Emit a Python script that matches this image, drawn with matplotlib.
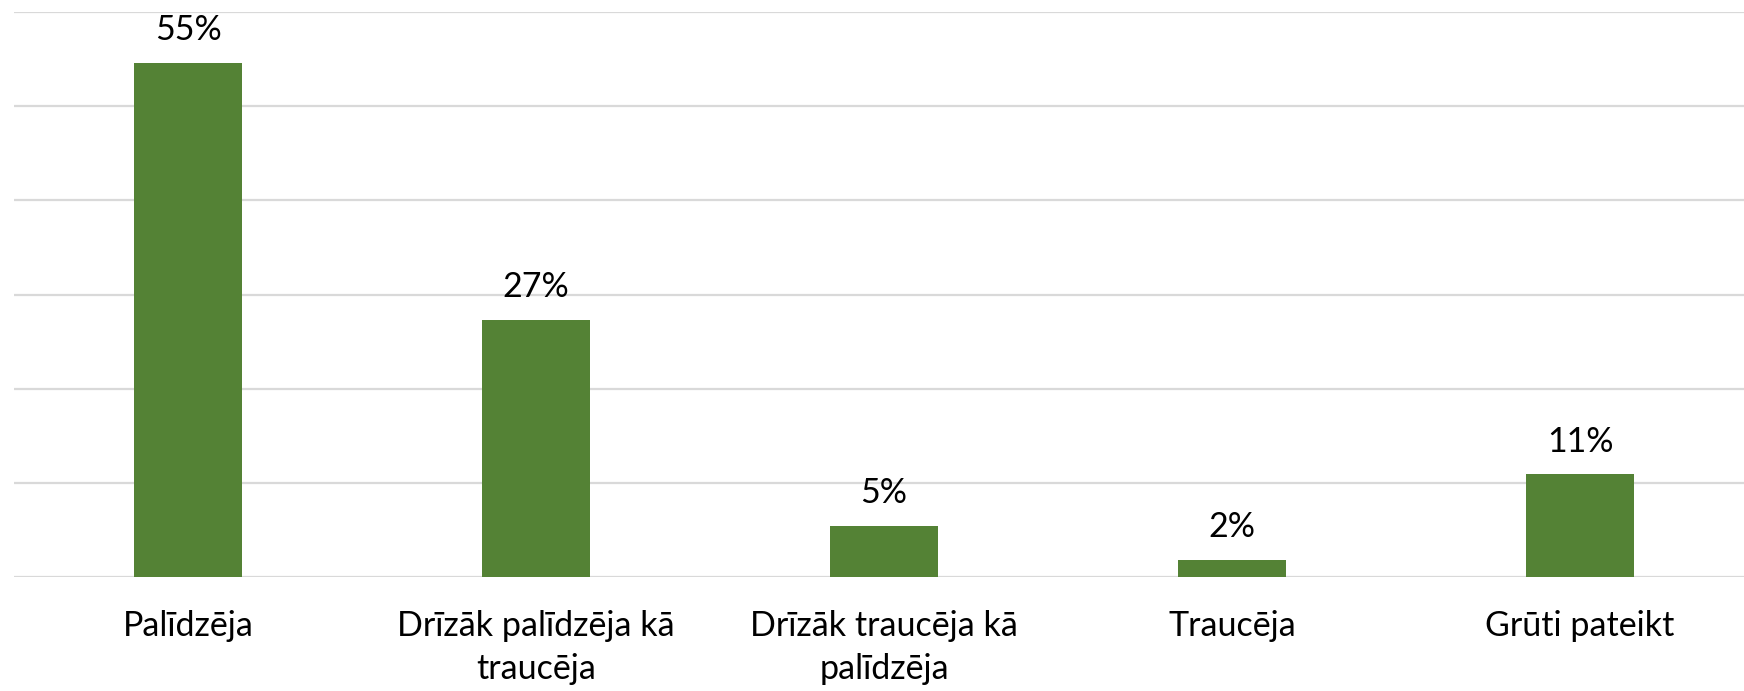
import numpy as np
import matplotlib
matplotlib.use("Agg")
import matplotlib.pyplot as plt

plt.rcParams['font.family'] = ['Lato', 'DejaVu Sans']

categories = ["Palīdzēja", "Drīzāk palīdzēja kā\ntraucēja", "Drīzāk traucēja kā\npalīdzēja",
              "Traucēja", "Grūti pateikt"]
values = [54.6, 27.3, 5.4, 1.8, 10.9]
labels = ["55%", "27%", "5%", "2%", "11%"]

GREEN = "#548235"
GRID = "#d9d9d9"

fig = plt.figure(figsize=(17.44, 6.91), dpi=100)
ax = fig.add_axes([14 / 1744, 114 / 691, 1740 / 1744, 565 / 691])

x = np.arange(len(categories))
bars = ax.bar(x, values, width=0.313, color=GREEN, zorder=3)
ax.bar_label(bars, labels=labels, padding=12, fontsize=24.5, color="black")

ax.set_xlim(-0.5, len(categories) - 0.5)
ax.set_ylim(0, 60)
ax.set_yticks(np.arange(0, 61, 10))
ax.yaxis.grid(True, color=GRID, linewidth=1.6, zorder=0)
ax.set_axisbelow(True)
ax.tick_params(axis="y", left=False, labelleft=False)
ax.tick_params(axis="x", bottom=False, pad=20)
ax.set_xticks(x)
ax.set_xticklabels(categories, fontsize=24.5, linespacing=1.45)
for s in ax.spines.values():
    s.set_visible(False)

fig.savefig("out.png", dpi=100)
